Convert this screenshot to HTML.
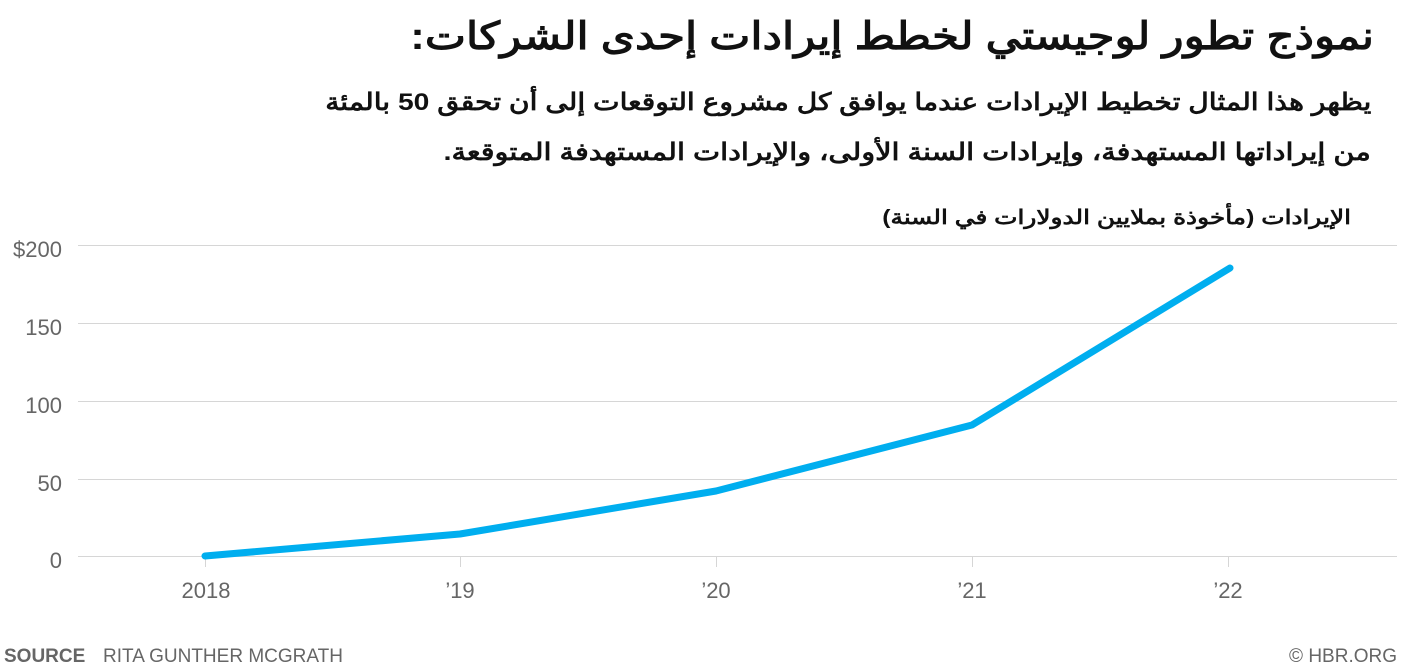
<!DOCTYPE html>
<html><head><meta charset="utf-8"><style>
body{margin:0;width:1401px;height:667px;background:#fff;overflow:hidden;font-family:"Liberation Sans","Noto Sans CJK SC",sans-serif;}
.rtl{position:absolute;direction:rtl;text-align:right;color:#111;white-space:nowrap;font-weight:bold;transform-origin:right center;}
</style></head><body>
<div class="rtl" style="right:27px;top:13px;font-size:38px;line-height:48px;transform:scaleX(1.15);">نموذج تطور لوجيستي لخطط إيرادات إحدى الشركات:</div>
<div class="rtl" style="right:30px;top:78px;font-size:24px;line-height:50px;transform:scaleX(1.175);">يظهر هذا المثال تخطيط الإيرادات عندما يوافق كل مشروع التوقعات إلى أن تحقق 50 بالمئة</div>
<div class="rtl" style="right:30px;top:128px;font-size:24px;line-height:50px;transform:scaleX(1.2);">من إيراداتها المستهدفة، وإيرادات السنة الأولى، والإيرادات المستهدفة المتوقعة.</div>
<div class="rtl" style="right:50px;top:204px;font-size:20px;line-height:28px;transform:scaleX(1.24);">الإيرادات (مأخوذة بملايين الدولارات في السنة)</div>
<svg width="1401" height="667" style="position:absolute;left:0;top:0" font-family="Liberation Sans, sans-serif">
<g stroke="#d6d6d6" stroke-width="1">
<line x1="78" x2="1397" y1="245.5" y2="245.5"/><line x1="78" x2="1397" y1="323.5" y2="323.5"/><line x1="78" x2="1397" y1="401.5" y2="401.5"/><line x1="78" x2="1397" y1="479.5" y2="479.5"/><line x1="78" x2="1397" y1="556.5" y2="556.5"/>
<line x1="205.5" x2="205.5" y1="556" y2="567"/><line x1="460.5" x2="460.5" y1="556" y2="567"/><line x1="716.5" x2="716.5" y1="556" y2="567"/><line x1="972.5" x2="972.5" y1="556" y2="567"/><line x1="1228.5" x2="1228.5" y1="556" y2="567"/>
</g>
<g fill="#666" font-size="22" text-anchor="end">
<text x="62" y="257">$200</text><text x="62" y="335">150</text><text x="62" y="413">100</text><text x="62" y="491">50</text><text x="62" y="568">0</text>
</g>
<g fill="#666" font-size="22" text-anchor="middle">
<text x="206" y="598">2018</text><text x="460" y="598">’19</text><text x="716" y="598">’20</text><text x="972" y="598">’21</text><text x="1228" y="598">’22</text>
</g>
<polyline points="205,556 460,534 716,491 972,425 1230,268" fill="none" stroke="#00aeef" stroke-width="7" stroke-linecap="round" stroke-linejoin="round"/>
<text x="4" y="662" font-size="19" fill="#666" font-weight="bold">SOURCE</text>
<text x="103" y="662" font-size="19" fill="#666">RITA GUNTHER MCGRATH</text>
<text x="1397" y="662" font-size="19" fill="#666" text-anchor="end">© HBR.ORG</text>
</svg>
</body></html>
